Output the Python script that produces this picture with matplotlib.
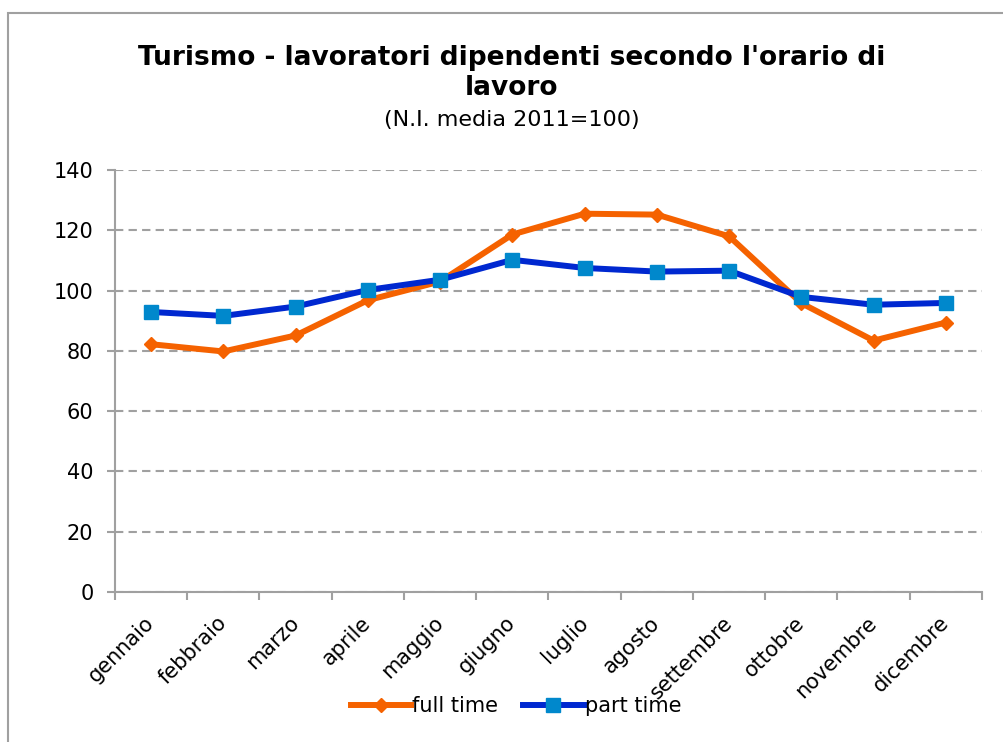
import matplotlib
matplotlib.use("Agg")
import matplotlib.pyplot as plt
from matplotlib.patches import Rectangle
from matplotlib.lines import Line2D
import numpy as np

plt.rcParams['font.family'] = ['DejaVu Sans']

months = ["gennaio", "febbraio", "marzo", "aprile", "maggio", "giugno",
          "luglio", "agosto", "settembre", "ottobre", "novembre", "dicembre"]
full_time = [82.2, 79.8, 85.1, 96.8, 103.0, 118.6, 125.5, 125.2, 118.0, 95.8, 83.4, 89.4]
part_time = [92.9, 91.6, 94.7, 100.2, 103.6, 110.2, 107.5, 106.3, 106.6, 97.9, 95.3, 95.9]
y_ticks = [0, 20, 40, 60, 80, 100, 120, 140]

title_line1 = "Turismo - lavoratori dipendenti secondo l'orario di"
title_line2 = "lavoro"
title_sub = "(N.I. media 2011=100)"

orange = '#F56200'
blue_line = '#0028D0'
blue_mark = '#0088CC'
grey = '#A0A0A0'

fig = plt.figure(figsize=(10.04, 7.42), dpi=100)
fig.patch.set_facecolor('white')

# outer border
fig.patches.append(Rectangle((8/1004, -0.05), 1.1, 1 - 13/742 + 0.05,
                             transform=fig.transFigure, fill=False,
                             edgecolor=grey, linewidth=1.5, zorder=0))

ax = fig.add_axes([115/1004, 1 - 592/742, (982-115)/1004, (592-170)/742])
x = np.arange(len(months))

ax.plot(x, full_time, color=orange, linewidth=4.3, marker='D', markersize=7,
        markerfacecolor=orange, markeredgecolor=orange, zorder=3, label='full time')
ax.plot(x, part_time, color=blue_line, linewidth=4.3, marker='s', markersize=10.5,
        markerfacecolor=blue_mark, markeredgecolor=blue_mark, zorder=4, label='part time')

ax.set_xlim(-0.5, len(months) - 0.5)
ax.set_ylim(0, 140)
ax.set_yticks(y_ticks)
ax.set_yticklabels([str(v) for v in y_ticks], fontsize=15)
ax.yaxis.grid(True, linestyle=(0, (4, 2.5)), color=grey, linewidth=1.5)
ax.set_axisbelow(True)

ax.set_xticks(np.arange(-0.5, len(months), 1.0))
ax.set_xticklabels([])
ax.set_xticks(x, minor=True)
ax.set_xticklabels(months, minor=True, rotation=45, ha='right', va='center',
                   rotation_mode='anchor', fontsize=15)
ax.tick_params(axis='x', which='minor', length=0, pad=20)
ax.tick_params(axis='x', which='major', length=6, width=1.5, color=grey)
ax.tick_params(axis='y', length=6, width=1.5, color=grey, pad=9.5)

for s in ['top', 'right']:
    ax.spines[s].set_visible(False)
for s in ['left', 'bottom']:
    ax.spines[s].set_color(grey)
    ax.spines[s].set_linewidth(1.5)

fig.text(512/1004, 1 - 58/742, title_line1, ha='center', va='center',
         fontsize=19, fontweight='bold')
fig.text(512/1004, 1 - 88/742, title_line2, ha='center', va='center',
         fontsize=19, fontweight='bold')
fig.text(512/1004, 1 - 120/742, title_sub, ha='center', va='center', fontsize=16)

handles = [Line2D([0], [0], color=orange, linewidth=4.3, marker='D', markersize=7,
                  markerfacecolor=orange, markeredgecolor=orange),
           Line2D([0], [0], color=blue_line, linewidth=4.3, marker='s', markersize=10.5,
                  markerfacecolor=blue_mark, markeredgecolor=blue_mark)]
fig.legend(handles, ['full time', 'part time'], loc='center',
           bbox_to_anchor=(516/1004, 1 - 706/742), ncol=2, frameon=False,
           fontsize=15, handlelength=2.9, handletextpad=0.05, columnspacing=1.2)

fig.savefig('out.png', dpi=100)
